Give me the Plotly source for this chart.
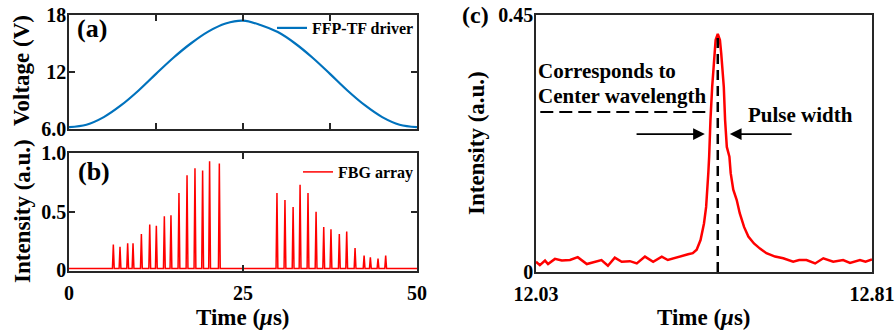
import plotly.graph_objects as go

# ---------------- data ----------------
# (a) FFP-TF driver voltage
v_time = [0, 2.5, 5, 7.5, 10, 12.5, 15, 17.5, 20, 22.5, 25, 27.5, 30, 32.5, 35, 37.5, 40, 42.5, 45, 47.5, 50]
v_volt = [6.2, 6.45, 7.25, 8.5, 10.05, 11.8, 13.5, 15.0, 16.25, 17.1, 17.4, 16.95, 16.2, 15.0, 13.5, 11.8, 10.05, 8.5, 7.25, 6.45, 6.2]

# (b) FBG array reflection peaks
peak_time = [6.37, 7.33, 8.43, 9.20, 10.4, 11.6, 12.55, 13.7, 14.65, 15.8, 16.96, 18.1, 19.2, 20.2, 21.6,
             29.88, 31.03, 32.2, 33.2, 34.34, 35.5, 36.6, 37.64, 38.84, 39.9, 41.1, 42.4, 43.3, 44.4, 45.5]
peak_int = [0.22, 0.20, 0.23, 0.23, 0.31, 0.39, 0.38, 0.46, 0.47, 0.66, 0.81, 0.87, 0.85, 0.93, 0.91,
            0.66, 0.60, 0.54, 0.73, 0.66, 0.50, 0.37, 0.35, 0.31, 0.33, 0.19, 0.125, 0.11, 0.10, 0.125]
fbg_base = 0.015

# (c) single pulse
c_time = [12.030, 12.039, 12.051, 12.058, 12.074, 12.090, 12.109, 12.127, 12.148, 12.167, 12.182, 12.197,
          12.213, 12.229, 12.248, 12.264, 12.283, 12.302, 12.322, 12.336, 12.353, 12.368, 12.383, 12.394,
          12.403, 12.412, 12.420, 12.425, 12.428, 12.430, 12.432, 12.433, 12.435, 12.439, 12.444, 12.447,
          12.452, 12.457, 12.460, 12.466, 12.469, 12.473, 12.479, 12.482, 12.488, 12.496, 12.503, 12.513,
          12.523, 12.536, 12.550, 12.565, 12.585, 12.604, 12.627, 12.641, 12.658, 12.678, 12.697, 12.720,
          12.743, 12.759, 12.782, 12.795, 12.810]
c_int = [0.018, 0.012, 0.020, 0.014, 0.023, 0.020, 0.021, 0.026, 0.014, 0.018, 0.021, 0.011,
         0.025, 0.018, 0.019, 0.015, 0.027, 0.018, 0.027, 0.021, 0.025, 0.028, 0.031, 0.033,
         0.039, 0.056, 0.085, 0.114, 0.144, 0.173, 0.202, 0.231, 0.266, 0.324, 0.383, 0.406,
         0.417, 0.406, 0.383, 0.324, 0.266, 0.219, 0.202, 0.173, 0.144, 0.126, 0.103, 0.079,
         0.062, 0.050, 0.041, 0.033, 0.027, 0.024, 0.018, 0.021, 0.021, 0.015, 0.024, 0.018,
         0.021, 0.016, 0.021, 0.018, 0.022]
center_time = 12.452
center_peak = 0.417
pw_level = 0.2416
pw_left = 12.422
pw_right = 12.480
cw_level = 0.28

# ---------------- build ----------------
W, H = 896, 334
def px(x):
    return x / W
def py(y):
    return 1 - y / H

FONT = "Liberation Serif"
AX = "#262626"

fig = go.Figure()

fig.add_trace(go.Scatter(x=v_time, y=v_volt, mode="lines", line=dict(color="#0072BD", width=2.2, shape="spline"),
                         name="FFP-TF driver", xaxis="x", yaxis="y", legend="legend"))

bx, by = [0.0], [fbg_base]
for t, h in zip(peak_time, peak_int):
    bx += [t - 0.13, t, t + 0.13]
    by += [fbg_base, h, fbg_base]
bx.append(50.0)
by.append(fbg_base)
fig.add_trace(go.Scatter(x=bx, y=by, mode="lines", line=dict(color="#ff0000", width=1.5),
                         name="FBG array", xaxis="x2", yaxis="y2", legend="legend2"))

fig.add_trace(go.Scatter(x=c_time, y=c_int, mode="lines", line=dict(color="#ff0000", width=2.5),
                         showlegend=False, xaxis="x3", yaxis="y3"))
# center wavelength marker lines
fig.add_trace(go.Scatter(x=[center_time, center_time], y=[0, center_peak], mode="lines",
                         line=dict(color="black", width=2.5, dash="10px,6px"),
                         showlegend=False, xaxis="x3", yaxis="y3"))
fig.add_trace(go.Scatter(x=[12.04, 12.425], y=[cw_level, cw_level], mode="lines",
                         line=dict(color="black", width=2, dash="13px,6px"),
                         showlegend=False, xaxis="x3", yaxis="y3"))

tickfont = dict(family=FONT, size=20, color="black", weight="bold")
common = dict(showline=True, linecolor=AX, linewidth=1.6, mirror="ticks", ticks="inside",
              ticklen=6, tickwidth=1.6, tickcolor=AX, showgrid=False, zeroline=False,
              tickfont=tickfont, automargin=False)

xa = [0.0770, 0.4654]
xc = [0.5982, 0.9732]
fig.update_layout(
    width=W, height=H, margin=dict(l=0, r=0, t=0, b=0, autoexpand=False),
    paper_bgcolor="white", plot_bgcolor="white",
    font=dict(family=FONT, color="black"),
    xaxis=dict(domain=xa, range=[0, 50], tickvals=[12.5, 25, 37.5], showticklabels=False,
               anchor="y", **common),
    yaxis=dict(domain=[0.6138, 0.9551], range=[6, 18], tickvals=[6, 12, 18], ticktext=["6.0", "12", "18"],
               anchor="x", ticklabelstandoff=-3, **common),
    xaxis2=dict(domain=xa, range=[0, 50], tickvals=[0, 25, 50], anchor="y2", ticklabelstandoff=3, **common),
    yaxis2=dict(domain=[0.1886, 0.5419], range=[-0.006, 1.0], tickvals=[0, 0.5, 1.0],
                ticktext=["0", "0.5", "1.0"], anchor="x2", ticklabelstandoff=-3, **common),
    xaxis3=dict(domain=xc, range=[12.03, 12.81], tickvals=[12.03, 12.81], ticktext=["12.03", "12.81"],
                anchor="y3", ticklabelstandoff=3, **common),
    yaxis3=dict(domain=[0.1856, 0.9551], range=[0, 0.45], tickvals=[0, 0.45], ticktext=["0", "0.45"],
                anchor="x3", ticklabelstandoff=-3, **common),
    legend=dict(x=px(419), y=py(28), xanchor="right", yanchor="middle", bgcolor="rgba(0,0,0,0)",
                borderwidth=0, font=dict(family=FONT, size=16, color="black", weight="bold")),
    legend2=dict(x=px(419), y=py(172), xanchor="right", yanchor="middle", bgcolor="rgba(0,0,0,0)",
                 borderwidth=0, font=dict(family=FONT, size=16, color="black", weight="bold")),
    showlegend=True,
)

ann = []
def label(text, x, y, size, xanchor="center", angle=0):
    ann.append(dict(text=text, x=px(x), y=py(y), xref="paper", yref="paper", showarrow=False,
                    xanchor=xanchor, yanchor="middle", textangle=angle,
                    font=dict(family=FONT, size=size, color="black", weight="bold")))
label("(a)", 92, 29, 26)
label("(b)", 94, 172, 26)
label("(c)", 475, 15, 24)
label("Corresponds to", 536, 71, 21, xanchor="left")
label("Center wavelength", 536, 96, 21, xanchor="left")
label("Pulse width", 746, 115, 21, xanchor="left")
# axis titles
label("Voltage (V)", 22, 71, 23, angle=-90)
label("Intensity (a.u.)", 22, 211, 23, angle=-90)
label("Intensity (a.u.)", 476, 143, 23, angle=-90)
label("Time (<i>μ</i>s)", 243, 317, 23)
label("Time (<i>μ</i>s)", 704, 317, 23)

# pulse width arrows
ann.append(dict(x=pw_left, y=pw_level, ax=12.260, ay=pw_level, xref="x3", yref="y3", axref="x3", ayref="y3",
                showarrow=True, arrowhead=2, arrowsize=1.3, arrowwidth=1.8, arrowcolor="black", text=""))
ann.append(dict(x=pw_right, y=pw_level, ax=12.627, ay=pw_level, xref="x3", yref="y3", axref="x3", ayref="y3",
                showarrow=True, arrowhead=2, arrowsize=1.3, arrowwidth=1.8, arrowcolor="black", text=""))
fig.update_layout(annotations=ann)

fig.write_html("out.html", config={"displayModeBar": False},
               post_script="document.body.style.margin='0px';document.body.style.padding='0px';")
